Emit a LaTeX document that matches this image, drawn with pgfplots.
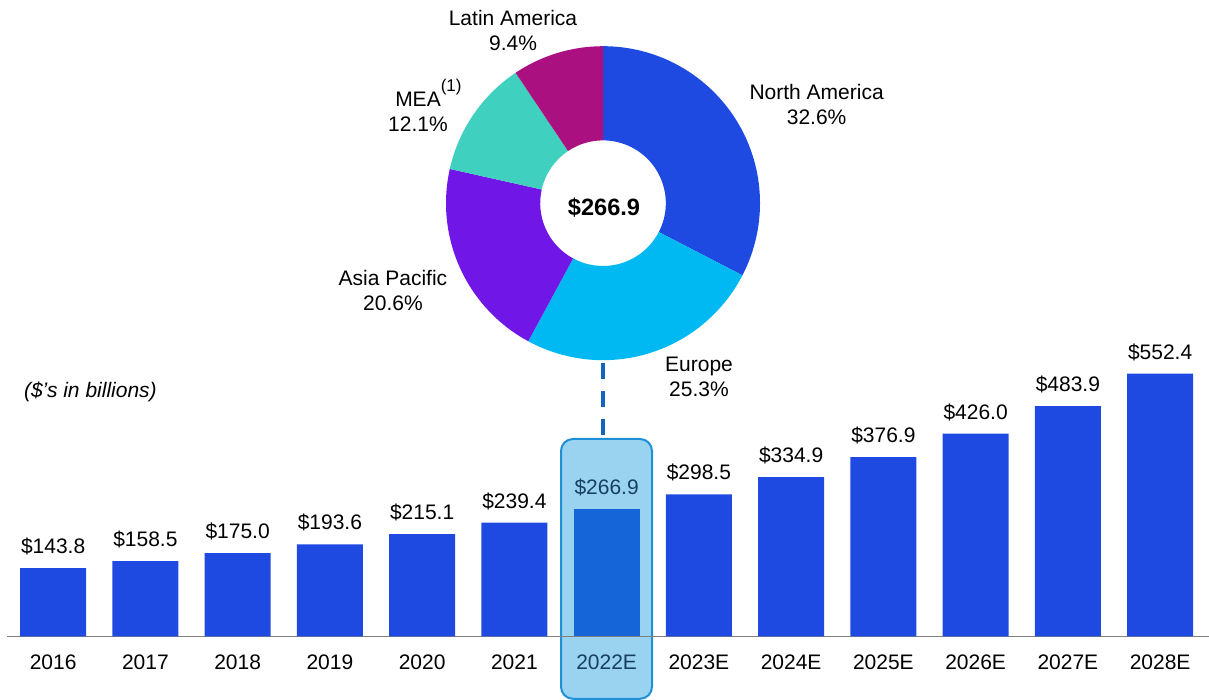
\documentclass[border=0pt]{standalone}
\usepackage{fontspec}
\setmainfont{Liberation Sans}
\usepackage{pgfplots}
\pgfplotsset{compat=1.18}

\definecolor{barblue}{RGB}{30,74,226}
\definecolor{hlbar}{RGB}{21,100,216}
\definecolor{hlfill}{RGB}{153,211,240}
\definecolor{hledge}{RGB}{30,144,216}
\definecolor{hltext}{RGB}{23,63,95}
\definecolor{dashc}{RGB}{21,101,192}
\definecolor{cEU}{RGB}{0,185,242}
\definecolor{cAP}{RGB}{112,22,230}
\definecolor{cMEA}{RGB}{64,208,192}
\definecolor{cLA}{RGB}{170,16,128}

\begin{document}
\begin{tikzpicture}[font=\fontsize{10.5}{12.5}\selectfont]
\path[use as bounding box] (0,0) rectangle (604.5pt,350pt);

% connector from the donut down to the highlighted year
\draw[dashc, line width=1.75pt, dash pattern=on 8pt off 6pt]
  (301.5pt,168.6pt) -- (301.5pt,0pt);
\draw[fill=hlfill, draw=hledge, line width=1pt, rounded corners=6pt]
  (280.5pt,0.6pt) rectangle (326pt,130.5pt);

% market size by year
\begin{axis}[
  at={(3.5pt,31.75pt)}, anchor=south west,
  scale only axis, width=601pt, height=142.8pt,
  xmin=-0.5, xmax=12.53, ymin=0, ymax=600,
  axis x line*=bottom, hide y axis,
  axis line style={-, black!50, line width=0.75pt},
  xtick={0,...,12}, major tick length=0pt,
  xticklabels={2016,2017,2018,2019,2020,2021,{\color{hltext}2022E},2023E,2024E,2025E,2026E,2027E,2028E},
  xticklabel style={font=\fontsize{10.5}{12.5}\selectfont, yshift=-5.5pt},
  /pgf/number format/assume math mode=true,
  nodes near coords={\$\pgfmathprintnumber[fixed,fixed zerofill,precision=1]{\pgfplotspointmeta}},
  every node near coord/.append style={font=\fontsize{10.5}{12.5}\selectfont, yshift=3pt, text=black},
  clip=false,
]
\addplot[ybar, bar width=33pt, bar shift=0pt, fill=barblue, draw=none] coordinates
  {(0,143.8)(1,158.5)(2,175.0)(3,193.6)(4,215.1)(5,239.4)
   (7,298.5)(8,334.9)(9,376.9)(10,426.0)(11,483.9)(12,552.4)};
\addplot[ybar, bar width=33pt, bar shift=0pt, fill=hlbar, draw=none,
  every node near coord/.append style={text=hltext}] coordinates
  {(6,266.9)};
\end{axis}

% 2022E regional split (shares in %)
\pgfmathsetmacro{\aA}{90}
\pgfmathsetmacro{\aB}{\aA-3.6*32.6}
\pgfmathsetmacro{\aC}{\aB-3.6*25.3}
\pgfmathsetmacro{\aD}{\aC-3.6*20.6}
\pgfmathsetmacro{\aE}{\aD-3.6*12.1}
\pgfmathsetmacro{\aF}{\aE-3.6*9.4}
\def\ri{0.40}
\begin{axis}[
  at={(301.5pt,248.4pt)}, anchor=center,
  scale only axis, width=157pt, height=157pt,
  xmin=-1, xmax=1, ymin=-1, ymax=1, hide axis, clip=false,
]
\fill[barblue] (axis cs:{cos(\aA)},{sin(\aA)}) arc[start angle=\aA, end angle=\aB, radius=1]
  -- (axis cs:{\ri*cos(\aB)},{\ri*sin(\aB)}) arc[start angle=\aB, end angle=\aA, radius=\ri] -- cycle;
\fill[cEU] (axis cs:{cos(\aB)},{sin(\aB)}) arc[start angle=\aB, end angle=\aC, radius=1]
  -- (axis cs:{\ri*cos(\aC)},{\ri*sin(\aC)}) arc[start angle=\aC, end angle=\aB, radius=\ri] -- cycle;
\fill[cAP] (axis cs:{cos(\aC)},{sin(\aC)}) arc[start angle=\aC, end angle=\aD, radius=1]
  -- (axis cs:{\ri*cos(\aD)},{\ri*sin(\aD)}) arc[start angle=\aD, end angle=\aC, radius=\ri] -- cycle;
\fill[cMEA] (axis cs:{cos(\aD)},{sin(\aD)}) arc[start angle=\aD, end angle=\aE, radius=1]
  -- (axis cs:{\ri*cos(\aE)},{\ri*sin(\aE)}) arc[start angle=\aE, end angle=\aD, radius=\ri] -- cycle;
\fill[cLA] (axis cs:{cos(\aE)},{sin(\aE)}) arc[start angle=\aE, end angle=\aF, radius=1]
  -- (axis cs:{\ri*cos(\aF)},{\ri*sin(\aF)}) arc[start angle=\aF, end angle=\aE, radius=\ri] -- cycle;
\end{axis}

\node[font=\fontsize{11.8}{14}\selectfont\bfseries] at (302pt,246.3pt) {\$266.9};
\node[align=center] at (408.3pt,297.5pt) {North America\\32.6\%};
\node[align=center] at (349.5pt,161.5pt) {Europe\\25.3\%};
\node[align=center] at (196.5pt,204.8pt) {Asia Pacific\\20.6\%};
\node[align=center] at (209pt,297.5pt) {MEA\rlap{\raisebox{7.5pt}{\fontsize{8.5}{10}\selectfont(1)}}\\12.1\%};
\node[align=center] at (256.5pt,334.7pt) {Latin America\\9.4\%};
\node[anchor=west, font=\fontsize{10.5}{12.5}\selectfont\itshape] at (8.5pt,154pt) {(\$’s in billions)};
\end{tikzpicture}
\end{document}
